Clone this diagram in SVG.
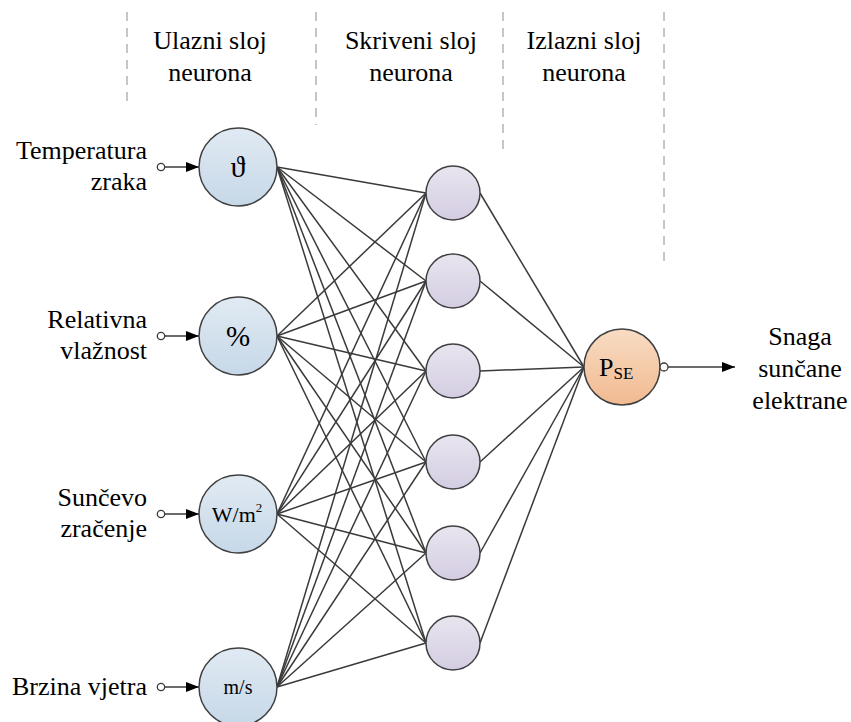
<svg xmlns="http://www.w3.org/2000/svg" width="851" height="722" viewBox="0 0 851 722">
<defs>
<linearGradient id="gIn" x1="0" y1="0" x2="0" y2="1"><stop offset="0" stop-color="#e1eaf3"/><stop offset="1" stop-color="#c6d8e8"/></linearGradient>
<linearGradient id="gHid" x1="0" y1="0" x2="0" y2="1"><stop offset="0" stop-color="#e8e5ef"/><stop offset="1" stop-color="#d4cde2"/></linearGradient>
<linearGradient id="gOut" x1="0" y1="0" x2="0" y2="1"><stop offset="0" stop-color="#f8dcc3"/><stop offset="1" stop-color="#f1ba90"/></linearGradient>
<marker id="arr" markerUnits="userSpaceOnUse" markerWidth="14" markerHeight="12" refX="13" refY="5" orient="auto"><path d="M0,0 L13,5 L0,10 z" fill="#000"/></marker>
<style>
.dash{stroke:#8c8c8c;stroke-width:1;stroke-dasharray:9 7;fill:none}
.node{stroke:#404040;stroke-width:1.5}
.in{fill:url(#gIn)}
.hid{fill:url(#gHid)}
.out{fill:url(#gOut)}
.con line{stroke:#3a3a3a;stroke-width:1.5}
.port{fill:#fff;stroke:#3a3a3a;stroke-width:1.3}
.arrow{stroke:#3a3a3a;stroke-width:1.5;marker-end:url(#arr)}
</style>
</defs>
<rect width="851" height="722" fill="#fff"/>
<g id="dividers">
<line class="dash" x1="127" y1="12" x2="127" y2="102"/>
<line class="dash" x1="316" y1="12" x2="316" y2="125"/>
<line class="dash" x1="503" y1="12" x2="503" y2="155"/>
<line class="dash" x1="664" y1="12" x2="664" y2="262"/>
</g>
<g id="headers" font-family="Liberation Serif, Times New Roman, serif" font-size="26" text-anchor="middle" fill="#000">
<text x="210" y="49">Ulazni sloj</text><text x="210" y="81">neurona</text>
<text x="411" y="49">Skriveni sloj</text><text x="411" y="81">neurona</text>
<text x="584" y="49">Izlazni sloj</text><text x="584" y="81">neurona</text>
</g>
<g id="connectors" class="con">
<line x1="277" y1="167" x2="426" y2="193"/><line x1="277" y1="167" x2="426" y2="281"/><line x1="277" y1="167" x2="426" y2="371"/><line x1="277" y1="167" x2="426" y2="462"/><line x1="277" y1="167" x2="426" y2="553"/><line x1="277" y1="167" x2="426" y2="643"/>
<line x1="277" y1="336" x2="426" y2="193"/><line x1="277" y1="336" x2="426" y2="281"/><line x1="277" y1="336" x2="426" y2="371"/><line x1="277" y1="336" x2="426" y2="462"/><line x1="277" y1="336" x2="426" y2="553"/><line x1="277" y1="336" x2="426" y2="643"/>
<line x1="277" y1="514" x2="426" y2="193"/><line x1="277" y1="514" x2="426" y2="281"/><line x1="277" y1="514" x2="426" y2="371"/><line x1="277" y1="514" x2="426" y2="462"/><line x1="277" y1="514" x2="426" y2="553"/><line x1="277" y1="514" x2="426" y2="643"/>
<line x1="277" y1="687" x2="426" y2="193"/><line x1="277" y1="687" x2="426" y2="281"/><line x1="277" y1="687" x2="426" y2="371"/><line x1="277" y1="687" x2="426" y2="462"/><line x1="277" y1="687" x2="426" y2="553"/><line x1="277" y1="687" x2="426" y2="643"/>
<line x1="480" y1="193" x2="584" y2="367"/><line x1="480" y1="281" x2="584" y2="367"/><line x1="480" y1="371" x2="584" y2="367"/><line x1="480" y1="462" x2="584" y2="367"/><line x1="480" y1="553" x2="584" y2="367"/><line x1="480" y1="643" x2="584" y2="367"/>
</g>
<g id="in1" font-family="Liberation Serif, Times New Roman, serif" fill="#000">
<text x="147" y="159" font-size="26" text-anchor="end">Temperatura</text><text x="147" y="190" font-size="26" text-anchor="end">zraka</text>
<line class="arrow" x1="165" y1="167" x2="199" y2="167"/><circle class="port" cx="161" cy="167" r="3.7"/>
<circle class="node in" cx="238" cy="167" r="39"/>
<text x="238" y="177" font-size="30" text-anchor="middle">ϑ</text>
</g>
<g id="in2" font-family="Liberation Serif, Times New Roman, serif" fill="#000">
<text x="147" y="328" font-size="26" text-anchor="end">Relativna</text><text x="147" y="359" font-size="26" text-anchor="end">vlažnost</text>
<line class="arrow" x1="165" y1="336" x2="199" y2="336"/><circle class="port" cx="161" cy="336" r="3.7"/>
<circle class="node in" cx="238" cy="336" r="39"/>
<text x="238" y="346" font-size="29" text-anchor="middle">%</text>
</g>
<g id="in3" font-family="Liberation Serif, Times New Roman, serif" fill="#000">
<text x="147" y="506" font-size="26" text-anchor="end">Sunčevo</text><text x="147" y="537" font-size="26" text-anchor="end">zračenje</text>
<line class="arrow" x1="165" y1="514" x2="199" y2="514"/><circle class="port" cx="161" cy="514" r="3.7"/>
<circle class="node in" cx="238" cy="514" r="39"/>
<text x="237" y="522" font-size="22" text-anchor="middle">W/m<tspan font-size="13" dy="-10">2</tspan></text>
</g>
<g id="in4" font-family="Liberation Serif, Times New Roman, serif" fill="#000">
<text x="147" y="695" font-size="26" text-anchor="end">Brzina vjetra</text>
<line class="arrow" x1="165" y1="687" x2="199" y2="687"/><circle class="port" cx="161" cy="687" r="3.7"/>
<circle class="node in" cx="238" cy="687" r="39"/>
<text x="238" y="694" font-size="20" text-anchor="middle">m/s</text>
</g>
<g id="h1"><circle class="node hid" cx="453" cy="193" r="27"/></g>
<g id="h2"><circle class="node hid" cx="453" cy="281" r="27"/></g>
<g id="h3"><circle class="node hid" cx="453" cy="371" r="27"/></g>
<g id="h4"><circle class="node hid" cx="453" cy="462" r="27"/></g>
<g id="h5"><circle class="node hid" cx="453" cy="553" r="27"/></g>
<g id="h6"><circle class="node hid" cx="453" cy="643" r="27"/></g>
<g id="out" font-family="Liberation Serif, Times New Roman, serif" fill="#000">
<circle class="node out" cx="622" cy="367" r="38"/>
<text x="599" y="376" font-size="26">P<tspan font-size="17" dy="3">SE</tspan></text>
<line class="arrow" x1="667" y1="367" x2="735" y2="367"/><circle class="port" cx="664" cy="367" r="4"/>
<text x="800" y="345" font-size="26" text-anchor="middle">Snaga</text><text x="800" y="377" font-size="26" text-anchor="middle">sunčane</text><text x="800" y="409" font-size="26" text-anchor="middle">elektrane</text>
</g>
</svg>
